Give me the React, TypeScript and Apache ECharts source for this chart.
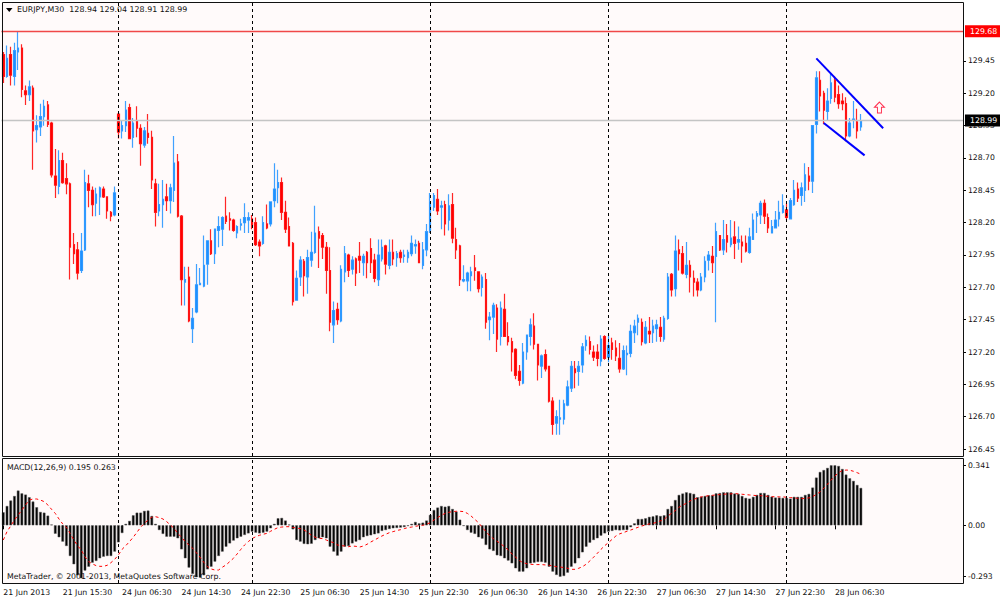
import React, { useEffect, useRef } from "react";
import * as echarts from "echarts";

type Row = number[];

// Each row: open, close, low, high
const session21Jun: Row[] = [
[129.50,129.33,129.28,129.52],[129.33,129.47,129.32,129.57],[129.50,129.34,129.26,129.56],[129.33,129.53,129.26,129.59],
[129.52,129.55,129.38,129.68],[129.55,129.23,129.17,129.58],[129.22,129.19,129.11,129.26],[129.19,129.25,129.14,129.30],
[129.24,128.91,128.61,129.26],[128.92,128.95,128.82,129.03],[128.94,129.02,128.87,129.12],[129.02,129.10,128.95,129.15],
[129.11,128.96,128.94,129.14],[128.97,128.57,128.55,128.98],[128.56,128.49,128.39,128.77],[128.48,128.68,128.42,128.76],
[128.68,128.51,128.50,128.74],[128.54,128.50,128.42,128.66],[128.50,128.01,127.76,128.51],[128.03,127.96,127.88,128.12],
[127.99,127.81,127.76,128.05],[127.83,127.98,127.81,128.12],[127.99,128.51,127.98,128.61],[128.50,128.45,128.32,128.57],
[128.45,128.34,128.25,128.48],[128.35,128.42,128.25,128.47],[128.40,128.47,128.26,128.48],[128.46,128.40,128.39,128.48],
[128.40,128.29,128.23,128.40],[128.28,128.25,128.21,128.29],[128.26,128.43,128.25,128.48],
];
const session24Jun: Row[] = [
[129.04,128.90,128.85,129.05],[128.91,128.95,128.85,128.99],[128.95,129.07,128.90,129.14],[129.09,128.85,128.85,129.12],
[128.86,128.97,128.78,129.01],[128.99,128.93,128.86,129.10],[128.93,128.81,128.64,128.96],[128.80,128.91,128.78,128.94],
[128.89,128.86,128.81,129.04],[128.86,128.53,128.46,128.91],[128.50,128.28,128.17,128.54],[128.29,128.34,128.25,128.50],
[128.34,128.38,128.16,128.53],[128.40,128.37,128.29,128.50],[128.37,128.47,128.27,128.50],[128.45,128.66,128.36,128.87],
[128.67,128.25,128.24,128.73],[128.25,127.76,127.56,128.26],[127.74,127.76,127.56,127.86],[127.78,127.44,127.43,127.86],
[127.38,127.46,127.27,127.54],[127.51,127.72,127.50,127.88],[127.72,127.73,127.72,127.85],[127.71,127.87,127.70,128.10],
[127.88,128.06,127.72,128.06],[128.06,127.96,127.95,128.15],[127.96,128.15,127.88,128.15],[128.14,128.17,128.01,128.25],
[128.15,128.24,128.02,128.25],[128.25,128.21,128.19,128.40],[128.23,128.22,128.14,128.28],[128.22,128.14,128.13,128.23],
[128.12,128.17,128.08,128.18],[128.18,128.19,128.14,128.23],[128.20,128.24,128.12,128.35],[128.22,128.24,128.12,128.28],
];
const session25Jun: Row[] = [
[128.23,128.18,128.15,128.26],[128.20,128.03,128.02,128.24],[128.05,128.02,127.94,128.07],[128.04,128.20,128.03,128.25],
[128.19,128.16,128.15,128.34],[128.19,128.36,128.17,128.36],[128.37,128.46,128.32,128.66],[128.47,128.51,128.35,128.61],
[128.51,128.28,128.22,128.55],[128.28,128.15,128.12,128.37],[128.17,128.02,128.02,128.24],[128.04,127.59,127.56,128.05],
[127.60,127.77,127.60,127.83],[127.78,127.91,127.71,127.94],[127.90,127.79,127.63,127.92],[127.78,127.93,127.65,127.99],
[127.91,127.97,127.86,128.13],[127.97,128.12,127.96,128.33],[128.13,128.08,127.85,128.17],[128.10,128.01,127.92,128.12],
[128.01,127.83,127.65,128.05],[127.83,127.43,127.36,128.01],[127.41,127.52,127.27,127.59],[127.53,127.45,127.41,127.58],
[127.44,127.84,127.43,127.87],[127.82,127.96,127.74,128.02],[127.95,127.83,127.78,127.96],[127.84,127.91,127.80,127.94],
[127.92,127.81,127.71,127.93],[127.94,127.91,127.81,128.05],[127.89,127.94,127.79,127.96],[127.97,127.89,127.77,127.98],
[128.00,127.89,127.81,128.08],[127.91,127.77,127.74,127.96],[127.76,127.95,127.71,128.07],[127.92,128.01,127.90,128.07],
[128.02,127.88,127.80,128.03],[127.87,127.97,127.84,128.07],[127.97,127.92,127.87,128.07],[127.93,127.96,127.86,127.98],
[127.97,127.93,127.89,127.99],[127.94,127.95,127.89,127.99],[127.93,127.97,127.89,127.99],[127.96,128.04,127.94,128.10],
[128.02,128.03,127.96,128.07],[128.04,127.89,127.89,128.06],[127.87,127.99,127.84,128.05],[127.99,128.13,127.94,128.19],
];
const session26Jun: Row[] = [
[128.14,128.36,128.12,128.43],[128.32,128.41,128.29,128.43],[128.38,128.29,128.26,128.46],[128.32,128.33,128.15,128.37],
[128.34,128.19,128.10,128.37],[128.22,128.33,128.14,128.42],[128.34,128.08,128.04,128.43],[128.07,127.99,127.92,128.16],
[128.02,127.76,127.71,128.03],[127.75,127.76,127.74,127.87],[127.75,127.81,127.67,127.82],[127.79,127.82,127.67,127.86],
[127.85,127.83,127.75,127.95],[127.82,127.69,127.66,127.82],[127.70,127.78,127.63,127.80],[127.76,127.43,127.38,127.81],
[127.45,127.47,127.29,127.51],[127.47,127.56,127.34,127.58],[127.54,127.30,127.20,127.57],[127.32,127.54,127.25,127.59],
[127.53,127.32,127.32,127.65],[127.32,127.28,127.25,127.43],[127.28,127.20,127.05,127.31],[127.22,127.02,126.99,127.23],
[127.05,126.98,126.94,127.10],[126.96,127.20,126.95,127.27],[127.20,127.33,127.14,127.33],[127.32,127.41,127.25,127.46],
[127.40,127.26,127.22,127.50],[127.26,127.10,126.98,127.26],[127.09,127.17,127.00,127.18],[127.18,127.07,127.05,127.22],
[127.09,126.82,126.81,127.09],[126.82,126.64,126.56,126.85],[126.65,126.70,126.56,126.75],[126.68,126.69,126.56,126.83],
[126.68,126.80,126.64,126.83],[126.79,126.93,126.78,126.98],[126.92,127.09,126.89,127.13],[127.07,127.04,126.92,127.13],
[127.05,127.09,126.94,127.13],[127.10,127.24,127.04,127.27],[127.25,127.29,127.21,127.33],[127.28,127.22,127.18,127.32],
[127.20,127.16,127.13,127.25],[127.20,127.15,127.09,127.26],[127.13,127.30,127.09,127.33],[127.32,127.15,127.14,127.33],
];
const session27Jun: Row[] = [
[127.16,127.25,127.12,127.33],[127.27,127.22,127.14,127.31],[127.23,127.17,127.13,127.29],[127.15,127.07,127.04,127.27],
[127.07,127.21,127.06,127.25],[127.18,127.19,127.02,127.25],[127.19,127.36,127.16,127.41],[127.35,127.40,127.27,127.45],
[127.43,127.46,127.33,127.49],[127.43,127.28,127.25,127.46],[127.27,127.39,127.26,127.44],[127.36,127.34,127.27,127.47],
[127.35,127.40,127.27,127.45],[127.38,127.41,127.28,127.45],[127.39,127.32,127.28,127.47],[127.30,127.46,127.28,127.48],
[127.46,127.78,127.45,127.81],[127.80,127.68,127.63,127.81],[127.69,127.98,127.63,128.10],[127.99,127.96,127.83,128.07],
[127.96,127.81,127.80,128.02],[127.80,127.87,127.77,128.05],[127.87,127.78,127.66,127.91],[127.77,127.74,127.63,127.83],
[127.74,127.68,127.63,127.77],[127.68,127.78,127.67,127.81],[127.78,127.90,127.74,127.94],[127.91,127.95,127.83,127.98],
[127.94,127.89,127.81,128.02],[127.94,128.13,127.43,128.20],[128.10,127.99,127.98,128.10],[127.99,128.07,127.95,128.22],
[128.10,128.05,127.97,128.19],[128.03,128.08,128.01,128.22],[128.09,128.04,127.92,128.21],[128.05,128.07,127.99,128.17],
[128.05,128.02,127.89,128.10],[128.04,127.98,127.97,128.10],[127.97,128.09,127.96,128.16],[128.07,128.22,128.07,128.27],
[128.25,128.27,128.12,128.29],[128.26,128.35,128.19,128.37],[128.35,128.25,128.19,128.38],[128.24,128.16,128.12,128.27],
[128.12,128.17,128.12,128.22],[128.16,128.22,128.16,128.29],[128.23,128.28,128.17,128.37],[128.28,128.33,128.27,128.42],
];
const session28Jun: Row[] = [
[128.30,128.24,128.22,128.35],[128.23,128.37,128.23,128.39],[128.34,128.45,128.33,128.53],[128.46,128.39,128.36,128.51],
[128.41,128.47,128.33,128.51],[128.45,128.57,128.36,128.66],[128.56,128.52,128.45,128.63],[128.52,128.95,128.43,128.95],
[128.96,129.32,128.89,129.37],[129.30,129.18,129.06,129.37],[129.20,129.07,128.96,129.22],[129.06,129.14,128.99,129.24],
[129.16,129.28,129.12,129.35],[129.30,129.17,129.13,129.33],[129.19,129.12,129.08,129.26],[129.14,129.12,129.07,129.20],
[129.12,128.87,128.83,129.17],[128.87,128.97,128.86,129.01],[128.99,129.00,128.93,129.14],[128.98,128.91,128.85,129.08],
[128.94,128.99,128.91,129.04],
];

const macdValues: number[] = [
.074,.110,.141,.167,.198,.182,.175,.160,.135,.103,.076,.072,.055,.004,
-.048,-.068,-.093,-.118,-.175,-.222,-.285,-.302,-.258,-.236,-.213,-.203,-.188,-.179,-.175,-.175,-.150,-.097,-.044,
.008,.025,.057,.072,.072,.082,.084,.053,.008,
-.027,-.049,-.065,-.065,-.065,-.074,-.137,-.188,-.241,-.277,-.296,-.298,-.285,-.251,-.236,-.207,-.175,-.150,-.122,-.103,-.087,-.074,-.065,-.055,-.046,-.036,-.042,-.046,-.042,-.036,-.017,
.008,.040,.042,.027,.004,
-.023,-.084,-.093,-.106,-.108,-.105,-.084,-.074,-.068,-.074,-.122,-.150,-.173,-.150,-.122,-.118,-.103,-.093,-.084,-.068,-.061,-.057,-.051,-.046,-.032,-.027,-.021,-.017,-.015,-.013,-.010,-.004,
.008,.019,.011,.015,.027,.059,.087,.101,.110,.106,.110,.093,.078,.032,
-.004,-.027,-.042,-.049,-.068,-.076,-.112,-.137,-.146,-.171,-.175,-.188,-.201,-.217,-.245,-.264,-.264,-.245,-.217,-.213,-.209,-.209,-.213,-.236,-.264,-.283,-.293,-.289,-.270,-.236,-.217,-.188,-.154,-.122,-.099,-.084,-.074,-.059,-.046,-.036,-.032,-.027,-.029,-.027,-.027,-.011,
.011,.036,.036,.040,.048,.051,.057,.053,.057,.093,.110,.144,.173,.181,.188,.184,.179,.160,.163,.167,.171,.171,.182,.184,.188,.188,.188,.181,.179,.167,.156,.152,.162,.173,.184,.184,.173,.163,.158,.158,.156,.156,.152,.162,.162,.162,.173,.179,.215,.272,.304,.315,.327,.342,.342,.338,.321,.289,.268,.253,.230,.213,
];

const signalValues: number[] = [
-.084,-.036,-.004,.030,.059,.087,.116,.144,.150,.150,
.144,.135,.116,.091,.068,.036,.008,-.011,-.046,-.084,
-.116,-.141,-.179,-.207,-.220,-.230,-.234,-.234,-.228,-.213,
-.194,-.169,-.137,-.116,-.093,-.068,-.040,-.011,.011,.030,
.046,.049,.044,.036,.021,.002,-.017,-.046,-.068,-.093,
-.112,-.131,-.156,-.182,-.211,-.236,-.249,-.255,-.255,-.239,
-.226,-.207,-.188,-.163,-.137,-.112,-.093,-.076,-.065,-.057,
-.051,-.046,-.034,-.023,-.013,-.010,-.008,-.008,-.013,-.015,
-.019,-.027,-.040,-.057,-.068,-.074,-.076,-.084,-.093,-.099,-.112,
-.116,-.118,-.122,-.118,-.120,-.124,-.118,-.108,-.095,-.084,
-.072,-.061,-.051,-.042,-.036,-.030,-.025,-.019,-.013,-.010,
-.006,-.002,.000,.006,.015,.030,.044,.057,.068,.074,
.078,.080,.080,.078,.068,.053,.034,.015,-.011,-.036,
-.059,-.076,-.091,-.106,-.122,-.141,-.163,-.182,-.201,-.213,
-.219,-.222,-.224,-.224,-.224,-.226,-.228,-.232,-.236,-.238,
-.241,-.245,-.251,-.251,-.245,-.236,-.222,-.203,-.182,-.160,
-.137,-.116,-.099,-.080,-.061,-.049,-.042,-.034,-.027,-.019,
-.011,-.004,.002,.008,.011,.017,.025,.034,
.053,.068,.084,.103,.116,.125,.139,.148,.156,.162,.165,
.169,.171,.173,.175,.177,.179,.179,.181,.179,.177,
.175,.173,.171,.169,.169,.167,.165,.163,.163,.162,
.162,.160,.158,.156,.154,.152,.154,.156,.163,.177,
.190,.211,.234,.258,.281,.300,.312,.315,.314,.308,.300,.291,
];

const timeTickLabels = [
  "21 Jun 2013","21 Jun 15:30","24 Jun 06:30","24 Jun 14:30","24 Jun 22:30","25 Jun 06:30","25 Jun 14:30","25 Jun 22:30",
  "26 Jun 06:30","26 Jun 14:30","26 Jun 22:30","27 Jun 06:30","27 Jun 14:30","27 Jun 22:30","28 Jun 06:30",
];
const priceTicks = [126.45,126.70,126.95,127.20,127.45,127.70,127.95,128.20,128.45,128.70,128.95,129.20,129.45];
const macdTicks = [-0.293, 0, 0.341];
const separators = [31, 67, 115, 163, 211];
const resistancePrice = 129.68;
const bidPrice = 128.99;
const channelUpper = [[219, 129.47], [237, 128.93]];
const channelLower = [[221, 128.97], [232, 128.72]];
const arrowAt = [236, 129.09];
const TICK_STEP = 16;
const SLOTS = 259;

const FONT = '"DejaVu Sans"';

export default function App() {
  const ref = useRef<HTMLDivElement>(null);
  useEffect(() => {
    const chart = echarts.init(ref.current!, null, { renderer: "svg" });
    const candles = [...session21Jun, ...session24Jun, ...session25Jun, ...session26Jun, ...session27Jun, ...session28Jun];
    const cats = Array.from({ length: SLOTS }, (_, i) => String(i));
    const showTick = (i: number) => i % TICK_STEP === 0 && i / TICK_STEP < timeTickLabels.length;
    const sepLine = separators.map((s) => ({ xAxis: s }));
    const sepStyle = { color: "#000", type: [3, 3] as any, width: 1, opacity: 1 };
    const grids = [
      { left: 1.44, width: 961.54, top: 2, height: 454, show: true, borderWidth: 0, backgroundColor: "#FFFAFA" },
      { left: 1.44, width: 961.54, top: 458, height: 125, show: true, borderWidth: 0, backgroundColor: "#FFFAFA" },
    ];
    chart.setOption({
      animation: false,
      backgroundColor: "#fff",
      grid: grids,
      xAxis: [
        { type: "category", gridIndex: 0, data: cats, show: false, boundaryGap: true },
        {
          type: "category", gridIndex: 1, data: cats, boundaryGap: true,
          axisLine: { show: false },
          axisTick: { show: true, length: 4, alignWithLabel: true, interval: (i: number) => showTick(i), lineStyle: { color: "#000" } },
          axisLabel: {
            interval: (i: number) => showTick(i),
            formatter: (_: string, i: number) => timeTickLabels[i / TICK_STEP] ?? "",
            align: "left", margin: 5, fontSize: 7.8, fontFamily: FONT, color: "#111", hideOverlap: false,
          },
        },
      ],
      yAxis: [
        {
          type: "value", gridIndex: 0, position: "right", min: 126.396, max: 129.906, scale: true,
          splitLine: { show: false }, axisLine: { show: false },
          axisTick: { show: true, length: 3, customValues: priceTicks, lineStyle: { color: "#000" } },
          axisLabel: { customValues: priceTicks, formatter: (v: number) => v.toFixed(2), margin: 5, fontSize: 7.7, fontFamily: FONT, color: "#111", align: "left" },
        },
        {
          type: "value", gridIndex: 1, position: "right", min: -0.329, max: 0.3837, scale: true,
          splitLine: { show: false }, axisLine: { show: false },
          axisTick: { show: true, length: 3, customValues: macdTicks, lineStyle: { color: "#000" } },
          axisLabel: { customValues: macdTicks, formatter: (v: number) => (v === 0 ? "0.00" : v.toFixed(3)), margin: 5, fontSize: 7.7, fontFamily: FONT, color: "#111", align: "left" },
        },
      ],
      series: [
        {
          type: "candlestick", xAxisIndex: 0, yAxisIndex: 0, barWidth: 2, silent: true,
          data: candles,
          itemStyle: {
            color: "#1E90FF", color0: "#FF0000", borderWidth: 1.2,
            borderColor: "rgba(30,144,255,0.85)", borderColor0: "rgba(255,0,0,0.85)",
          },
          markLine: {
            silent: true, symbol: ["none", "none"], animation: false, precision: 4,
            data: [
              ...sepLine.map((d) => ({ ...d, lineStyle: sepStyle, label: { show: false } })),
              {
                yAxis: resistancePrice, lineStyle: { color: "#F04848", type: "solid", width: 1.3, opacity: 1 },
                label: { show: true, position: "end", distance: 2, formatter: resistancePrice.toFixed(2), backgroundColor: "#FF0000", color: "#fff", padding: [2, 5, 2, 5], fontSize: 7.8, fontFamily: FONT },
              },
              {
                yAxis: bidPrice, lineStyle: { color: "#C4C4C4", type: "solid", width: 1.3, opacity: 1 },
                label: { show: true, position: "end", distance: 2, formatter: bidPrice.toFixed(2), backgroundColor: "#000", color: "#fff", padding: [2, 5, 2, 5], fontSize: 7.8, fontFamily: FONT },
              },
              [{ coord: channelUpper[0] }, { coord: channelUpper[1], lineStyle: { color: "#0000FF", type: "solid", width: 2, opacity: 1 }, label: { show: false } }],
              [{ coord: channelLower[0] }, { coord: channelLower[1], lineStyle: { color: "#0000FF", type: "solid", width: 2, opacity: 1 }, label: { show: false } }],
            ],
          },
          markPoint: {
            silent: true, animation: false,
            data: [{
              coord: arrowAt, symbol: "path://M5 0 L10 5 L7 5 L7 10.5 L3 10.5 L3 5 L0 5 Z", symbolSize: [10, 11],
              itemStyle: { color: "#FFFAFA", borderColor: "#FF3050", borderWidth: 1 }, label: { show: false },
            }],
          },
        },
        {
          type: "bar", xAxisIndex: 1, yAxisIndex: 1, barWidth: 2.6, silent: true,
          data: macdValues, itemStyle: { color: "#000", borderColor: "#555", borderWidth: 0.5 },
          markLine: {
            silent: true, symbol: ["none", "none"], animation: false,
            data: sepLine.map((d) => ({ ...d, lineStyle: sepStyle, label: { show: false } })),
          },
        },
        {
          type: "line", xAxisIndex: 1, yAxisIndex: 1, showSymbol: false, symbol: "none", silent: true,
          data: signalValues, lineStyle: { color: "#FF0000", width: 1, type: [3, 3] as any },
        },
      ],
      graphic: [
        { type: "rect", z: 50, silent: true, shape: { x: 2.5, y: 2.5, width: 961, height: 454 }, style: { fill: "none", stroke: "#111", lineWidth: 1 } },
        { type: "rect", z: 50, silent: true, shape: { x: 2.5, y: 458.5, width: 961, height: 125 }, style: { fill: "none", stroke: "#111", lineWidth: 1 } },
        { type: "polygon", z: 60, silent: true, shape: { points: [[6, 8], [12.5, 8], [9.25, 12]] }, style: { fill: "#000" } },
        { type: "text", z: 60, silent: true, x: 17, y: 5.5, style: { text: "EURJPY,M30  128.94 129.04 128.91 128.99", fontSize: 7.9, fontFamily: FONT, fill: "#111" } },
        { type: "text", z: 60, silent: true, x: 7, y: 463, style: { text: "MACD(12,26,9) 0.195 0.263", fontSize: 7.8, fontFamily: FONT, fill: "#111" } },
        { type: "text", z: 60, silent: true, x: 7, y: 572.5, style: { text: "MetaTrader, © 2001-2013, MetaQuotes Software Corp.", fontSize: 7.8, fontFamily: FONT, fill: "#111" } },
      ],
    });
    return () => chart.dispose();
  }, []);
  return <div ref={ref} style={{ position: "absolute", left: 0, top: 0, width: 1000, height: 600 }} />;
}
